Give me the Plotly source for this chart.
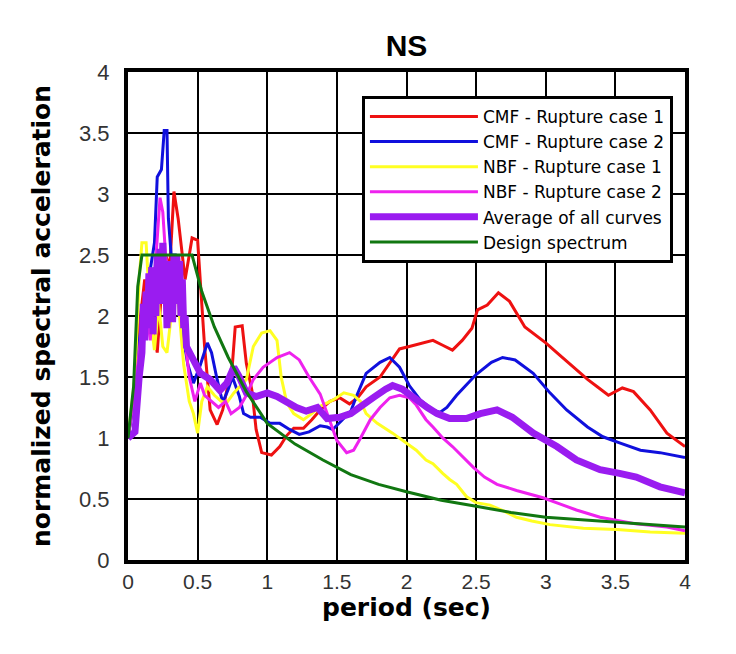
import plotly.graph_objects as go

# ---------------- data ----------------
cmf1_x = [0, 0.04, 0.08, 0.12, 0.15, 0.18, 0.21, 0.24, 0.27, 0.30, 0.33, 0.36, 0.38, 0.41, 0.44,
          0.46, 0.50, 0.53, 0.55, 0.59, 0.64, 0.68, 0.75, 0.77, 0.82, 0.85, 0.89, 0.92, 0.96, 1.03,
          1.09, 1.14, 1.19, 1.26, 1.32, 1.38, 1.45, 1.52, 1.59, 1.65, 1.71, 1.81, 1.88, 1.95, 2.02,
          2.12, 2.19, 2.26, 2.33, 2.40, 2.47, 2.51, 2.58, 2.66, 2.74, 2.85, 3.00, 3.10, 3.20, 3.30,
          3.37, 3.45, 3.55, 3.63, 3.75, 3.87, 4.00]
cmf1_y = [1.0, 1.3, 1.9, 2.3, 2.1, 1.9, 1.7, 2.2, 2.5, 2.4, 3.02, 2.8, 2.6, 2.3, 2.5,
          2.64, 2.62, 2.07, 1.75, 1.23, 1.11, 1.23, 1.61, 1.91, 1.92, 1.61, 1.39, 1.07, 0.88, 0.86,
          0.93, 1.02, 1.08, 1.08, 1.15, 1.23, 1.30, 1.33, 1.28, 1.33, 1.42, 1.50, 1.62, 1.73, 1.75,
          1.78, 1.80, 1.76, 1.72, 1.80, 1.90, 2.05, 2.09, 2.19, 2.12, 1.91, 1.78, 1.68, 1.58, 1.48,
          1.42, 1.35, 1.41, 1.38, 1.23, 1.04, 0.93]

cmf2_x = [0, 0.04, 0.08, 0.12, 0.16, 0.19, 0.21, 0.24, 0.26, 0.28, 0.29, 0.31, 0.34, 0.37, 0.40,
          0.43, 0.47, 0.52, 0.57, 0.60, 0.64, 0.68, 0.72, 0.75, 0.80, 0.83, 0.88, 0.95, 1.02, 1.09,
          1.16, 1.23, 1.30, 1.38, 1.43, 1.47, 1.54, 1.60, 1.64, 1.71, 1.81, 1.88, 1.95, 2.02, 2.10,
          2.19, 2.24, 2.29, 2.36, 2.50, 2.61, 2.69, 2.78, 2.91, 3.03, 3.15, 3.30, 3.41, 3.53, 3.68,
          3.82, 4.00]
cmf2_y = [1.0, 1.3, 1.8, 2.1, 2.4, 2.6, 3.14, 3.2, 3.52, 3.52, 2.8, 2.5, 2.5, 2.2, 1.8,
          1.6, 1.45, 1.6, 1.78, 1.7, 1.48, 1.29, 1.4, 1.5, 1.34, 1.2, 1.17, 1.17, 1.12, 1.12,
          1.07, 1.03, 1.05, 1.10, 1.09, 1.07, 1.15, 1.22, 1.34, 1.53, 1.62, 1.66, 1.58, 1.43, 1.31,
          1.23, 1.21, 1.25, 1.35, 1.52, 1.62, 1.66, 1.64, 1.53, 1.37, 1.23, 1.09, 1.01, 0.96, 0.90,
          0.88, 0.84]

nbf1_x = [0, 0.05, 0.08, 0.10, 0.13, 0.16, 0.19, 0.22, 0.25, 0.28, 0.31, 0.34, 0.37, 0.40, 0.44,
          0.47, 0.50, 0.53, 0.57, 0.62, 0.67, 0.71, 0.76, 0.80, 0.85, 0.90, 0.96, 1.02, 1.07, 1.10,
          1.14, 1.19, 1.26, 1.32, 1.38, 1.47, 1.55, 1.62, 1.67, 1.71, 1.79, 1.90, 2.00, 2.07, 2.14,
          2.19, 2.26, 2.31, 2.36, 2.43, 2.50, 2.60, 2.70, 2.79, 2.90, 3.03, 3.27, 3.51, 3.75, 4.00]
nbf1_y = [1.0, 1.5, 2.3, 2.6, 2.6, 2.0, 1.72, 2.1, 1.75, 1.7, 2.0, 2.3, 2.0, 1.6, 1.3,
          1.2, 1.04, 1.3, 1.42, 1.35, 1.3, 1.29, 1.37, 1.42, 1.48, 1.75, 1.86, 1.88, 1.8, 1.5,
          1.29, 1.2, 1.15, 1.2, 1.26, 1.31, 1.37, 1.35, 1.3, 1.2, 1.12, 1.04, 0.96, 0.9, 0.82,
          0.79, 0.71, 0.66, 0.62, 0.52, 0.47, 0.45, 0.40, 0.35, 0.32, 0.29, 0.26, 0.25, 0.23, 0.22]

nbf2_x = [0, 0.05, 0.10, 0.13, 0.16, 0.19, 0.21, 0.23, 0.25, 0.27, 0.29, 0.31, 0.33, 0.36, 0.38,
          0.41, 0.44, 0.48, 0.52, 0.55, 0.60, 0.65, 0.70, 0.74, 0.80, 0.85, 0.90, 0.97, 1.07, 1.16,
          1.23, 1.30, 1.38, 1.43, 1.50, 1.57, 1.62, 1.67, 1.74, 1.81, 1.88, 1.95, 2.02, 2.07, 2.14,
          2.19, 2.26, 2.33, 2.40, 2.48, 2.56, 2.65, 2.79, 2.98, 3.10, 3.22, 3.39, 3.63, 3.87, 4.00]
nbf2_y = [1.0, 1.4, 1.9, 2.1, 1.8, 2.3, 2.7, 2.97, 2.85, 2.5, 2.3, 2.0, 2.2, 2.5, 2.3,
          1.8, 1.5, 1.3, 1.45, 1.35, 1.3, 1.25, 1.3, 1.2, 1.25, 1.35, 1.48, 1.58, 1.66, 1.70,
          1.64, 1.50, 1.36, 1.20, 0.98, 0.88, 0.90, 1.00, 1.15, 1.25, 1.33, 1.35, 1.33, 1.27, 1.15,
          1.09, 1.00, 0.93, 0.85, 0.76, 0.68, 0.62, 0.57, 0.51, 0.46, 0.41, 0.35, 0.30, 0.27, 0.24]

avg_x = [0, 0.05, 0.08, 0.10, 0.11, 0.12, 0.13, 0.14, 0.15, 0.16, 0.17, 0.18, 0.19, 0.20, 0.21,
         0.22, 0.23, 0.24, 0.25, 0.26, 0.27, 0.28, 0.29, 0.30, 0.31, 0.32, 0.33, 0.34, 0.35, 0.36,
         0.37, 0.38, 0.39, 0.40, 0.41, 0.42, 0.47, 0.52, 0.59, 0.66, 0.71, 0.76, 0.80, 0.85, 0.92,
         1.00, 1.07, 1.14, 1.21, 1.28, 1.36, 1.43, 1.52, 1.60, 1.67, 1.76, 1.85, 1.90, 1.97, 2.07,
         2.15, 2.22, 2.31, 2.43, 2.53, 2.65, 2.76, 2.91, 3.08, 3.22, 3.39, 3.53, 3.65, 3.82, 4.00]
avg_y = [1.0, 1.05, 1.5, 1.7, 2.1, 1.8, 2.2, 1.9, 2.35, 2.0, 2.4, 1.85, 2.3, 2.0, 2.5,
         2.1, 2.55, 2.2, 2.6, 2.1, 2.45, 1.9, 2.4, 2.0, 2.45, 1.95, 2.5, 2.1, 2.5, 2.2,
         2.45, 2.0, 2.3, 1.9, 2.0, 1.75, 1.64, 1.53, 1.48, 1.39, 1.45, 1.58, 1.50, 1.37, 1.34,
         1.37, 1.34, 1.29, 1.25, 1.22, 1.25, 1.16, 1.17, 1.20, 1.25, 1.33, 1.40, 1.43, 1.40, 1.31,
         1.25, 1.20, 1.16, 1.16, 1.20, 1.23, 1.17, 1.04, 0.93, 0.82, 0.74, 0.71, 0.68, 0.60, 0.55]

design_x = [0, 0.04, 0.07, 0.10, 0.46, 0.53, 0.62, 0.72, 0.85, 1.00, 1.20, 1.40, 1.60, 1.80, 2.00,
            2.25, 2.50, 2.75, 3.00, 3.25, 3.50, 3.75, 4.00]
design_y = [1.0, 1.42, 2.24, 2.5, 2.5, 2.2, 1.91, 1.66, 1.38, 1.12, 0.95, 0.82, 0.70, 0.62, 0.56,
            0.49, 0.44, 0.39, 0.35, 0.33, 0.31, 0.29, 0.27]

series_names = ["CMF - Rupture case 1", "CMF - Rupture case 2", "NBF - Rupture case 1",
                "NBF - Rupture case 2", "Average of all curves", "Design spectrum"]
series_colors = ["#ee1111", "#1010dd", "#ffff22", "#ee22ee", "#9a1cf0", "#117711"]
series_widths = [3, 3, 3, 3, 7, 3]
tick_vals = [0, 0.5, 1, 1.5, 2, 2.5, 3, 3.5, 4]
tick_text = ["0", "0.5", "1", "1.5", "2", "2.5", "3", "3.5", "4"]

# ---------------- figure ----------------
fig = go.Figure()
all_x = [cmf1_x, cmf2_x, nbf1_x, nbf2_x, avg_x, design_x]
all_y = [cmf1_y, cmf2_y, nbf1_y, nbf2_y, avg_y, design_y]
for xs, ys, name, col, w in zip(all_x, all_y, series_names, series_colors, series_widths):
    fig.add_trace(go.Scatter(x=xs, y=ys, mode="lines", name=name,
                             line=dict(color=col, width=w)))

axis_common = dict(
    range=[0, 4], tickvals=tick_vals, ticktext=tick_text,
    showgrid=True, gridcolor="black", gridwidth=2,
    showline=True, linecolor="black", linewidth=4, mirror=True,
    zeroline=False, ticks="",
)

fig.update_layout(
    width=736, height=654,
    margin=dict(l=128, r=51, t=72, b=94),
    paper_bgcolor="white", plot_bgcolor="white",
    title=dict(text="<b>NS</b>", x=0.5, xref="paper", y=1 - 45 / 654, yref="container",
               xanchor="center", yanchor="middle",
               font=dict(family="Liberation Sans, Arial", size=30, color="black")),
    xaxis=dict(**axis_common, ticklabelstandoff=0,
               tickfont=dict(family="Liberation Sans, Arial", size=21, color="#333333"),
               title=dict(text="<b>period (sec)</b>", standoff=0,
                          font=dict(family="DejaVu Sans", size=25, color="black"))),
    yaxis=dict(**axis_common, ticklabelstandoff=10,
               tickfont=dict(family="Liberation Sans, Arial", size=22, color="#333333"),
               title=dict(text="<b>normalized spectral acceleration</b>", standoff=22,
                          font=dict(family="DejaVu Sans", size=25, color="black"))),
    legend=dict(x=0.42, y=0.951, xanchor="left", yanchor="top",
                bgcolor="white", bordercolor="black", borderwidth=3,
                font=dict(family="DejaVu Sans", size=17, color="black"),
                itemwidth=108, tracegroupgap=0),
    showlegend=True,
)

fig.write_html("out.html")
